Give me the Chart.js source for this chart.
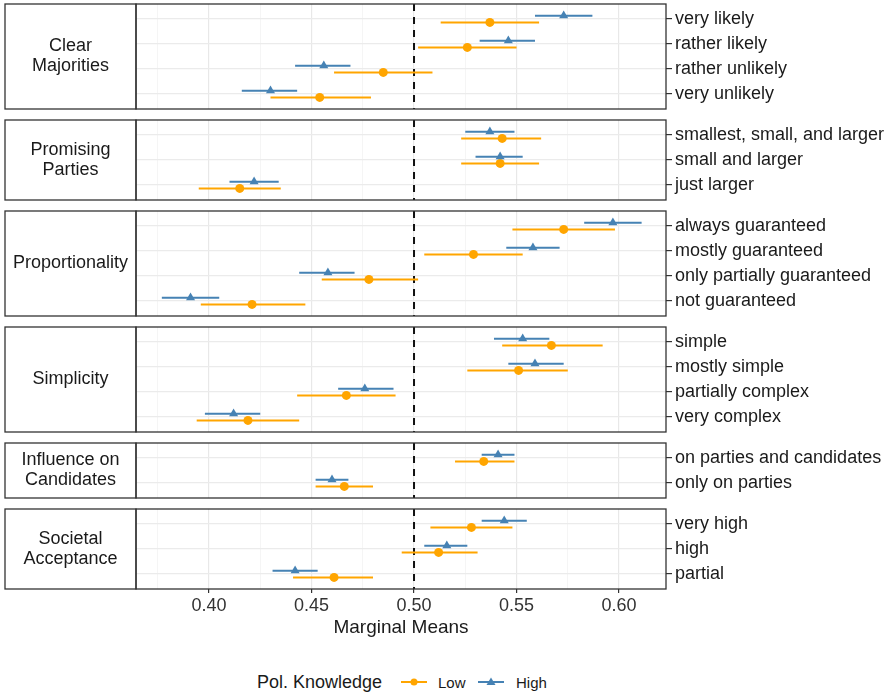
<!DOCTYPE html>
<html lang="en">
<head>
<meta charset="UTF-8">
<title>Marginal Means by Political Knowledge</title>
<script src="https://cdn.jsdelivr.net/npm/chart.js"></script>
<style>
  body { margin: 0; background: #fff; font-family: 'Liberation Sans', Arial, sans-serif; }
  #wrap { position: relative; width: 891px; height: 696px; overflow: hidden; }
  #wrap canvas { position: absolute; left: 0; }
  .lg { position: absolute; color: #1a1a1a; white-space: nowrap; line-height: 1; }
  .lg svg { display: block; }
</style>
</head>
<body>
<div id="wrap">
  <span class="lg" style="left:257px; top:673px; font-size:18px;">Pol. Knowledge</span>
  <span class="lg" style="left:401px; top:676px;">
    <svg width="26" height="12"><line x1="0" y1="6" x2="26" y2="6" stroke="#FFA500" stroke-width="2"/><circle cx="13" cy="6" r="3.5" fill="#FFA500"/></svg>
  </span>
  <span class="lg" style="left:438px; top:675px; font-size:15px;">Low</span>
  <span class="lg" style="left:478px; top:676px;">
    <svg width="26" height="12"><line x1="0" y1="6" x2="26" y2="6" stroke="#4682B4" stroke-width="2"/><polygon points="13,1.5 17.5,9 8.5,9" fill="#4682B4"/></svg>
  </span>
  <span class="lg" style="left:516px; top:675px; font-size:15px;">High</span>
</div>
<script>
// facets (top to bottom) and how many attribute levels each one holds
const facets = [['Clear', 'Majorities'], ['Promising', 'Parties'], ['Proportionality'],
                ['Simplicity'], ['Influence on', 'Candidates'], ['Societal', 'Acceptance']];
const facetSizes = [4, 3, 4, 4, 2, 3];

const levels = [
  'very likely', 'rather likely', 'rather unlikely', 'very unlikely',
  'smallest, small, and larger', 'small and larger', 'just larger',
  'always guaranteed', 'mostly guaranteed', 'only partially guaranteed', 'not guaranteed',
  'simple', 'mostly simple', 'partially complex', 'very complex',
  'on parties and candidates', 'only on parties',
  'very high', 'high', 'partial'
];

// low political knowledge: marginal mean with 95% interval
const lowMean  = [0.537, 0.526, 0.485, 0.454, 0.543, 0.542, 0.415, 0.573, 0.529, 0.478, 0.421,
                  0.567, 0.551, 0.467, 0.419, 0.534, 0.466, 0.528, 0.512, 0.461];
const lowLower = [0.513, 0.502, 0.461, 0.430, 0.523, 0.523, 0.395, 0.548, 0.505, 0.455, 0.396,
                  0.543, 0.526, 0.443, 0.394, 0.520, 0.452, 0.508, 0.494, 0.441];
const lowUpper = [0.561, 0.550, 0.509, 0.479, 0.562, 0.561, 0.435, 0.598, 0.553, 0.502, 0.447,
                  0.592, 0.575, 0.491, 0.444, 0.549, 0.480, 0.548, 0.531, 0.480];

// high political knowledge
const highMean  = [0.573, 0.546, 0.456, 0.430, 0.537, 0.542, 0.422, 0.597, 0.558, 0.458, 0.391,
                   0.553, 0.559, 0.476, 0.412, 0.541, 0.460, 0.544, 0.516, 0.442];
const highLower = [0.559, 0.532, 0.442, 0.416, 0.525, 0.530, 0.410, 0.583, 0.545, 0.444, 0.377,
                   0.539, 0.546, 0.463, 0.398, 0.533, 0.452, 0.533, 0.505, 0.431];
const highUpper = [0.587, 0.559, 0.469, 0.443, 0.549, 0.553, 0.434, 0.611, 0.571, 0.471, 0.405,
                   0.566, 0.573, 0.490, 0.425, 0.549, 0.468, 0.555, 0.526, 0.453];

const xTicks = [0.40, 0.45, 0.50, 0.55, 0.60];
const xMinorTicks = [0.375, 0.425, 0.475, 0.525, 0.575];
const refLine = 0.5;

const ORANGE = '#FFA500';
const BLUE = '#4682B4';
const INK = '#333333';
const FONT = "'Liberation Sans', Arial, sans-serif";

const ROW = 25;        // px per level
const GAP = 11;        // px between facets
const TOP = 4;
const PAD = 2;
const X_MIN = 0.3644, X_MAX = 0.6229;
const DODGE = 0.135;
const AXIS_H = 48;

const isMinor = v => xMinorTicks.some(m => Math.abs(m - v) < 1e-9);

// drop the label overflow padding so every panel keeps its exact height
const noOverflow = s => { s.paddingTop = 0; s.paddingBottom = 0; s.paddingLeft = 0; s.paddingRight = 0; };

// panel frame + strip label on the left
const framePlugin = {
  id: 'frame',
  afterDraw(chart, args, opts) {
    const { ctx, chartArea: a } = chart;
    ctx.save();
    ctx.strokeStyle = INK;
    ctx.lineWidth = 1.3;
    ctx.strokeRect(a.left, a.top, a.right - a.left, a.bottom - a.top);
    ctx.strokeRect(5, a.top, a.left - 5, a.bottom - a.top);
    ctx.fillStyle = '#1a1a1a';
    ctx.font = '18px ' + FONT;
    ctx.textAlign = 'center';
    ctx.textBaseline = 'middle';
    const lines = opts.lines;
    const mid = (a.top + a.bottom) / 2;
    lines.forEach((t, i) => {
      ctx.fillText(t, (5 + a.left) / 2, mid + (i - (lines.length - 1) / 2) * 20);
    });
    ctx.restore();
  }
};

const wrap = document.getElementById('wrap');
let start = 0;
let panelTop = TOP;

facets.forEach((facet, f) => {
  const n = facetSizes[f];
  const first = start;
  const rows = Array.from({ length: n }, (_, k) => first + k);
  const isLast = f === facets.length - 1;
  const h = (n + 0.2) * ROW;

  const canvas = document.createElement('canvas');
  canvas.width = 891;
  canvas.height = PAD + h + (isLast ? AXIS_H : PAD);
  canvas.style.top = (panelTop - PAD) + 'px';
  wrap.appendChild(canvas);

  const interval = (lo, hi, off) => rows.flatMap((i, k) => [
    { x: lo[i], y: k + 1 + off }, { x: hi[i], y: k + 1 + off }, { x: null, y: null }
  ]);
  const points = (m, off) => rows.map((i, k) => ({ x: m[i], y: k + 1 + off }));

  new Chart(canvas, {
    type: 'scatter',
    data: {
      datasets: [
        { data: points(highMean, -DODGE), pointStyle: 'triangle', pointRadius: 5.2,
          backgroundColor: BLUE, borderColor: BLUE, borderWidth: 0 },
        { data: points(lowMean, DODGE), pointStyle: 'circle', pointRadius: 4.5,
          backgroundColor: ORANGE, borderColor: ORANGE, borderWidth: 0 },
        { data: interval(highLower, highUpper, -DODGE), showLine: true, spanGaps: false,
          borderColor: BLUE, borderWidth: 2, pointRadius: 0 },
        { data: interval(lowLower, lowUpper, DODGE), showLine: true, spanGaps: false,
          borderColor: ORANGE, borderWidth: 2, pointRadius: 0 },
        { data: [{ x: refLine, y: 0.4 }, { x: refLine, y: n + 0.6 }], showLine: true,
          borderColor: '#111', borderWidth: 2, borderDash: [7, 6], pointRadius: 0 }
      ]
    },
    options: {
      responsive: false,
      animation: false,
      events: [],
      layout: {
        autoPadding: false,
        padding: { left: 136, right: 0, top: PAD, bottom: isLast ? 0 : PAD }
      },
      plugins: {
        legend: { display: false },
        tooltip: { enabled: false },
        frame: { lines: facet }
      },
      scales: {
        x: {
          type: 'linear',
          min: X_MIN,
          max: X_MAX,
          afterBuildTicks: s => {
            s.ticks = [...xTicks, ...xMinorTicks].sort((a, b) => a - b).map(v => ({ value: v }));
          },
          afterFit: s => { s.height = isLast ? AXIS_H : 0; noOverflow(s); },
          border: { display: false },
          grid: {
            color: c => isMinor(c.tick.value) ? '#f3f3f3' : '#e8e8e8',
            lineWidth: c => isMinor(c.tick.value) ? 0.8 : 1.2,
            drawTicks: isLast,
            tickLength: 4,
            tickColor: c => isMinor(c.tick.value) ? 'rgba(0,0,0,0)' : INK
          },
          ticks: {
            display: isLast,
            autoSkip: false,
            maxRotation: 0,
            padding: 4,
            color: '#333',
            font: { family: FONT, size: 18, lineHeight: 1 },
            callback: v => isMinor(v) ? '' : v.toFixed(2)
          },
          title: {
            display: isLast,
            text: 'Marginal Means',
            color: '#1a1a1a',
            font: { family: FONT, size: 19, lineHeight: 1 },
            padding: { top: 0, bottom: 0 }
          }
        },
        y: {
          type: 'linear',
          position: 'right',
          reverse: true,
          min: 0.4,
          max: n + 0.6,
          afterBuildTicks: s => { s.ticks = rows.map((_, k) => ({ value: k + 1 })); },
          afterFit: s => { s.width = 225; noOverflow(s); },
          border: { display: false },
          grid: { color: '#ebebeb', lineWidth: 1.2, tickLength: 6, tickColor: INK },
          ticks: {
            autoSkip: false,
            padding: 3,
            color: '#1a1a1a',
            font: { family: FONT, size: 18 },
            callback: v => levels[first + v - 1]
          }
        }
      }
    },
    plugins: [framePlugin]
  });

  panelTop += h + GAP;
  start += n;
});
</script>
</body>
</html>
